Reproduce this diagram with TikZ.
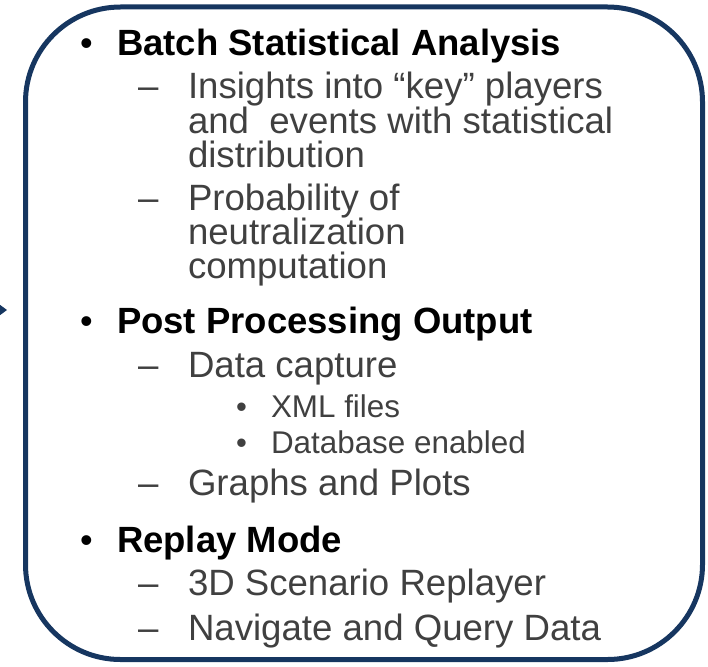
\documentclass[tikz,border=0pt]{standalone}
\usepackage{fontspec}
\setmainfont{Liberation Sans}
\definecolor{frameblue}{RGB}{22,54,96}
\definecolor{bodygray}{RGB}{64,64,64}
\tikzset{
  txt/.style={anchor=base west, inner sep=0pt, outer sep=0pt},
  head/.style={txt, font=\fontsize{36.5}{36.5}\selectfont\bfseries, text=black},
  sub/.style={txt, font=\fontsize{36.6}{36.6}\selectfont, text=bodygray},
  subsub/.style={txt, font=\fontsize{31.4}{31.4}\selectfont, text=bodygray},
  dot/.style={txt, font=\fontsize{36}{36}\selectfont, text=black},
  smalldot/.style={txt, font=\fontsize{31}{31}\selectfont, text=bodygray},
  frame/.style={draw=frameblue, line width=5pt, rounded corners=95pt},
}
\begin{document}
\begin{tikzpicture}[x=1pt, y=-1pt]
\useasboundingbox (0,0) rectangle (708,666);

% incoming arrow tip at the left edge
\fill[frameblue] (-12,296) -- (7,310) -- (-12,324) -- cycle;

% rounded frame
\draw[frame] (25.5,7) rectangle (702.5,659.5);

% Batch Statistical Analysis
\node[dot]  (b1)  at (80,56)  {•};
\node[head] (h1)  at (117,56) {Batch Statistical Analysis};
\node[sub]  (d11) at (138,99) {–};
\node[sub]  (s11a) at (188,99)  {Insights into “key” players};
\node[sub]  (s11b) at (188,133) {and\ \ events with statistical};
\node[sub]  (s11c) at (188,167) {distribution};
\node[sub]  (d12) at (138,210) {–};
\node[sub]  (s12a) at (188,210) {Probability of};
\node[sub]  (s12b) at (188,244) {neutralization};
\node[sub]  (s12c) at (188,278) {computation};

% Post Processing Output
\node[dot]  (b2)  at (80,333)  {•};
\node[head] (h2)  at (117,333) {Post Processing Output};
\node[sub]  (d21) at (138,377) {–};
\node[sub]  (s21) at (188,377) {Data capture};
\node[smalldot] (e1) at (236,417) {•};
\node[subsub] (t1) at (271,417) {XML files};
\node[smalldot] (e2) at (236,453) {•};
\node[subsub] (t2) at (271,453) {Database enabled};
\node[sub]  (d22) at (138,495) {–};
\node[sub]  (s22) at (188,495) {Graphs and Plots};

% Replay Mode
\node[dot]  (b3)  at (80,552)  {•};
\node[head] (h3)  at (117,552) {Replay Mode};
\node[sub]  (d31) at (138,595) {–};
\node[sub]  (s31) at (188,595) {3D Scenario Replayer};
\node[sub]  (d32) at (138,640) {–};
\node[sub]  (s32) at (188,640) {Navigate and Query Data};
\end{tikzpicture}
\end{document}
